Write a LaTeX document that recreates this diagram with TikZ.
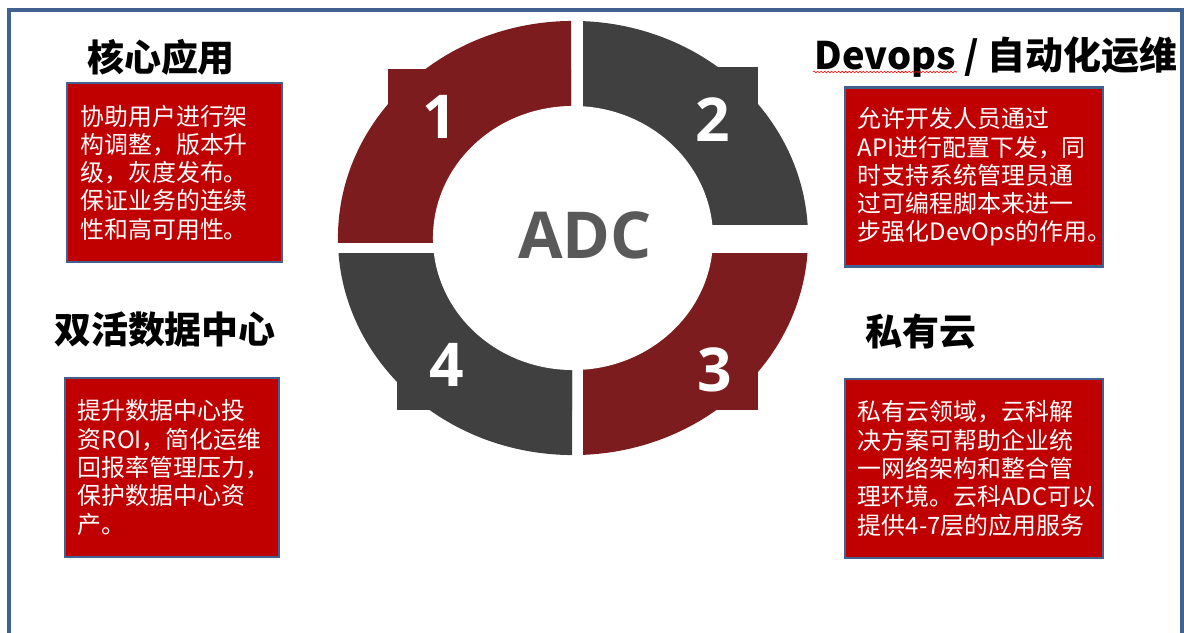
\documentclass[tikz,border=0pt]{standalone}
\usepackage{fontspec}
\setmainfont{Noto Sans CJK SC}
\newfontfamily\numfont{Open Sans}
\usetikzlibrary{decorations.pathmorphing}
\definecolor{framecol}{RGB}{65,98,142}
\definecolor{ringred}{RGB}{124,28,30}
\definecolor{ringgrey}{RGB}{64,64,64}
\definecolor{boxred}{RGB}{192,0,0}
\definecolor{adcgrey}{RGB}{89,89,89}

\begin{document}
\begin{tikzpicture}[x=0.025cm, y=-0.025cm,
  head/.style={font=\fontsize{26.3}{30}\selectfont\bfseries},
  descbox/.style={draw=framecol, line width=1.6pt, fill=boxred, text=white,
    align=left, inner xsep=0.33cm, minimum height=4.475cm,
    font=\fontsize{17}{20.1}\selectfont},
  num/.style={text=white, font=\fontsize{43}{46}\selectfont\numfont\bfseries}]
\useasboundingbox (0,0) rectangle (1184,632);

% frame
\draw[framecol, line width=2.6pt] (9,640) -- (9,10) -- (1182,10) -- (1182,640);

% ring
\begin{scope}
\clip (300,0) rectangle (571,242);
\fill[ringred] (573,238) ellipse [x radius=5.875cm, y radius=5.425cm];
\fill[ringred] (388,69) rectangle (573,238);
\end{scope}
\begin{scope}
\clip (583,0) rectangle (850,224);
\fill[ringgrey] (573,238) ellipse [x radius=5.875cm, y radius=5.425cm];
\fill[ringgrey] (758,67) rectangle (573,238);
\end{scope}
\begin{scope}
\clip (583,253) rectangle (850,500);
\fill[ringred] (573,238) ellipse [x radius=5.875cm, y radius=5.425cm];
\fill[ringred] (758,410) rectangle (573,238);
\end{scope}
\begin{scope}
\clip (300,253) rectangle (572,500);
\fill[ringgrey] (573,238) ellipse [x radius=5.875cm, y radius=5.425cm];
\fill[ringgrey] (397,410) rectangle (573,238);
\end{scope}
\fill[white] (573,238) ellipse [x radius=3.5cm, y radius=3.3cm];

\node[num] (n1) at (440,117) {1};
\node[num] (n2) at (713,120) {2};
\node[num] (n3) at (715,370) {3};
\node[num] (n4) at (447,365) {4};
\node[text=adcgrey, font=\fontsize{46}{48}\selectfont\numfont\bfseries] (adc) at (585,235) {ADC};

% headings
\node[head] (h1) at (161,57) {核心应用};
\node[head, font=\fontsize{27}{30}\selectfont\bfseries] (h2) at (996,57) {Devops / 自动化运维};
\node[head] (h3) at (165,330) {双活数据中心};
\node[head] (h4) at (921,332) {私有云};
\draw[red, line width=0.4pt, decorate, decoration={snake, amplitude=0.6pt, segment length=2.5pt}] (813,72) -- (957,72);

% text boxes
\node[descbox, text width=4.7cm] (d1) at (174.5,172.5) {协助用户进行架\\构调整，版本升\\级，灰度发布。\\保证业务的连续\\性和高可用性。};
\node[descbox, text width=5.8cm] (d2) at (974,177) {允许开发人员通过\\API进行配置下发，同\\时支持系统管理员通\\过可编程脚本来进一\\步强化DevOps的作用。};
\node[descbox, text width=4.7cm] (d3) at (172,467.5) {提升数据中心投\\资ROI，简化运维\\回报率管理压力，\\保护数据中心资\\产。};
\node[descbox, text width=5.8cm] (d4) at (974,468.5) {私有云领域，云科解\\决方案可帮助企业统\\一网络架构和整合管\\理环境。云科ADC可以\\提供4-7层的应用服务};
\end{tikzpicture}
\end{document}
